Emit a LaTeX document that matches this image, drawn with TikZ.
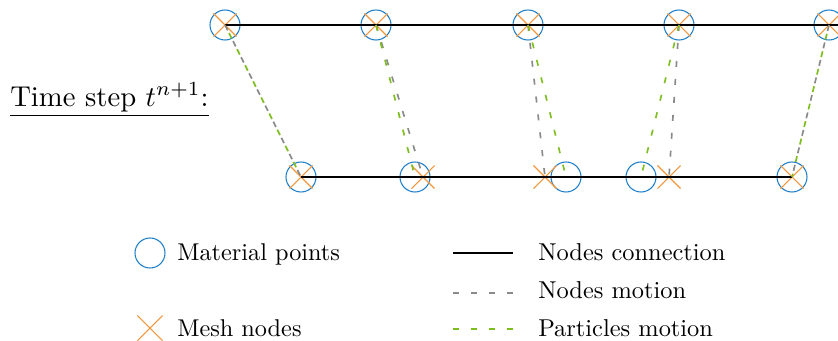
\documentclass[tikz,border=0pt]{standalone}
\usepackage{graphicx}
\usetikzlibrary{shapes.misc}
\definecolor{mpblue}{HTML}{1F7FC8}
\definecolor{mnorange}{HTML}{F2963C}
\definecolor{pgreen}{HTML}{7DBE1E}
\definecolor{ngray}{HTML}{8A8A8A}
\tikzset{
  mp/.style={circle,draw=mpblue,line width=0.8pt,minimum size=22.5pt,inner sep=0pt},
  mn/.style={cross out,draw=mnorange,line width=0.8pt,minimum size=16.5pt,inner sep=0pt},
  mnbig/.style={cross out,draw=mnorange,line width=0.8pt,minimum size=18pt,inner sep=0pt},
  conn/.style={black,line width=1.3pt},
  nmotion/.style={ngray,line width=1.25pt,dash pattern=on 4.5pt off 9pt},
  pmotion/.style={pgreen,line width=1.25pt,dash pattern=on 4.5pt off 9pt},
  pmotionoff/.style={pgreen,line width=1.25pt,dash pattern=on 4.5pt off 9pt,dash phase=6.75pt},
  lbl/.style={anchor=base west,inner sep=0pt},
}
\begin{document}
\begin{tikzpicture}[x=0.75pt,y=-0.75pt]
\useasboundingbox (0,0) rectangle (838,340);
\clip (0,0) rectangle (838,340);
% top row
\foreach \i/\x in {1/225,2/376,3/528,4/679,5/829}{
  \node[mp] (tc\i) at (\x,25) {};
  \node[mn] (tx\i) at (\x,25) {};
}
\coordinate (tend) at (845,25);
% bottom row: material points
\foreach \i/\x in {1/301,2/415,3/566,4/641,5/792}{
  \node[mp] (bc\i) at (\x,177) {};
}
% bottom row: mesh nodes
\foreach \i/\x in {1/301,2/423,3/545,4/669,5/792}{
  \node[mn] (bx\i) at (\x,177) {};
}
% connections
\draw[conn] (tx1.center) -- (tend);
\draw[conn] (bx1.center) -- (bx5.center);
% motions
\foreach \i in {1,...,5}{
  \draw[nmotion] (tx\i.center) -- (bx\i.center);
}
\foreach \i in {1,5}{
  \draw[pmotionoff] (tc\i.center) -- (bc\i.center);
}
\foreach \i in {2,3,4}{
  \draw[pmotion] (tc\i.center) -- (bc\i.center);
}
% title
\node[lbl] (title) at (10,106) {\scalebox{2.15}{\underline{Time step $t^{n+1}$:}}};
% legend
\node[mp] (lgc) at (150,253) {};
\node[lbl] (lgct) at (177,260) {\scalebox{1.82}{Material points}};
\node[mnbig] (lgx) at (150,328) {};
\node[lbl] (lgxt) at (177,336) {\scalebox{1.82}{Mesh nodes}};
\coordinate (l1a) at (453,253); \coordinate (l1b) at (513,253);
\coordinate (l2a) at (453,293); \coordinate (l2b) at (513,293);
\coordinate (l3a) at (453,329); \coordinate (l3b) at (513,329);
\draw[conn] (l1a) -- (l1b);
\draw[nmotion] (l2a) -- (l2b);
\draw[pmotion] (l3a) -- (l3b);
\node[lbl] (l1t) at (538,260) {\scalebox{1.83}{Nodes connection}};
\node[lbl] (l2t) at (538,298) {\scalebox{1.83}{Nodes motion}};
\node[lbl] (l3t) at (538,336) {\scalebox{1.83}{Particles motion}};
\end{tikzpicture}
\end{document}
